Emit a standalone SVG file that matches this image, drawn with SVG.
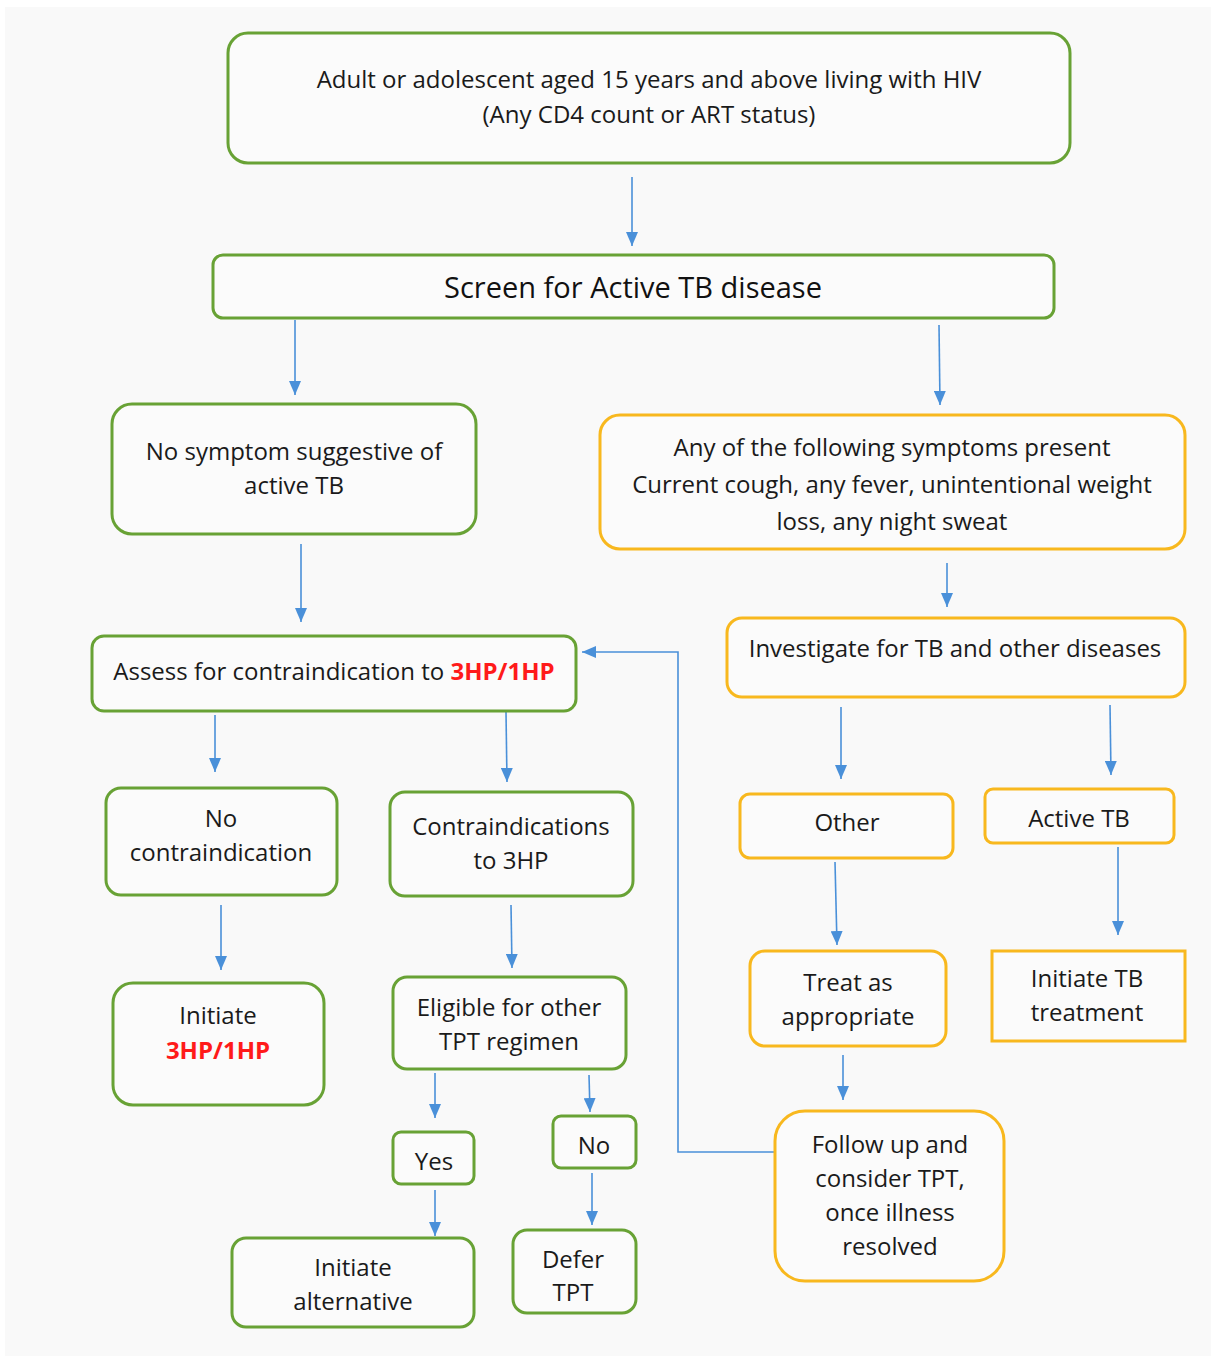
<svg xmlns="http://www.w3.org/2000/svg" width="1211" height="1356" viewBox="0 0 1211 1356">
  <defs>
    <!-- one arrowhead, pointing along the path direction -->
    <marker id="ah" viewBox="0 0 14 12" refX="14" refY="6" markerWidth="14" markerHeight="12" markerUnits="userSpaceOnUse" orient="auto">
      <path d="M0,0 L14,6 L0,12 Z" fill="#4a90d9"/>
    </marker>
    <style>
      .g { fill: #fbfbfb; stroke: #68a235; stroke-width: 3; }
      .y { fill: #fbfbfb; stroke: #f8b81e; stroke-width: 3; }
      .t { font-family: "Open Sans", "Noto Sans", sans-serif; font-size: 24px; fill: #1a1a1a; text-anchor: middle; }
      .big { font-family: "Open Sans", "Noto Sans", sans-serif; font-size: 29px; fill: #111; text-anchor: middle; }
      .red { fill: #ff1a1a; font-weight: bold; }
      .c { fill: none; stroke: #4a90d9; stroke-width: 1.6; }
      .v { fill: none; stroke: #4a90d9; stroke-width: 1.6; marker-end: url(#ah); }
    </style>
  </defs>

  <rect x="0" y="0" width="1211" height="1356" fill="#ffffff"/>
  <rect x="5" y="7" width="1206" height="1349" fill="#f9f9f9"/>

  <!-- connectors -->
  <g id="connectors">
    <path class="v" d="M632,177 L632,246"/>
    <path class="v" d="M295,320 L295,395"/>
    <path class="v" d="M939,325 L940,405"/>
    <path class="v" d="M301,544 L301,622"/>
    <path class="v" d="M947,563 L947,607"/>
    <path class="v" d="M215,715 L215,772"/>
    <path class="v" d="M506,712 L507,782"/>
    <path class="v" d="M221,905 L221,970"/>
    <path class="v" d="M511,905 L512,968"/>
    <path class="v" d="M435,1073 L435,1118"/>
    <path class="v" d="M589,1075 L590,1112"/>
    <path class="v" d="M435,1190 L435,1236"/>
    <path class="v" d="M592,1173 L592,1225"/>
    <path class="v" d="M841,707 L841,779"/>
    <path class="v" d="M1110,705 L1111,775"/>
    <path class="v" d="M835,862 L837,945"/>
    <path class="v" d="M1118,847 L1118,935"/>
    <path class="v" d="M843,1055 L843,1100"/>
    <path class="v" d="M775,1152 L678,1152 L678,652 L582,652"/>
  </g>

  <g id="n-start">
    <rect class="g" x="228" y="33" width="842" height="130" rx="20"/>
    <text class="t" x="649" y="88">Adult or adolescent aged 15 years and above living with HIV</text>
    <text class="t" x="649" y="123">(Any CD4 count or ART status)</text>
  </g>

  <g id="n-screen">
    <rect class="g" x="213" y="255" width="841" height="63" rx="10"/>
    <text class="big" x="633" y="298">Screen for Active TB disease</text>
  </g>

  <g id="n-nosymptom">
    <rect class="g" x="112" y="404" width="364" height="130" rx="20"/>
    <text class="t" x="294" y="460">No symptom suggestive of</text>
    <text class="t" x="294" y="494">active TB</text>
  </g>

  <g id="n-symptoms">
    <rect class="y" x="600" y="415" width="585" height="134" rx="20"/>
    <text class="t" x="892" y="456">Any of the following symptoms present</text>
    <text class="t" x="892" y="493">Current cough, any fever, unintentional weight</text>
    <text class="t" x="892" y="530">loss, any night sweat</text>
  </g>

  <g id="n-assess">
    <rect class="g" x="92" y="636" width="484" height="75" rx="12"/>
    <text class="t" x="334" y="680">Assess for contraindication to <tspan class="red">3HP/1HP</tspan></text>
  </g>

  <g id="n-investigate">
    <rect class="y" x="727" y="618" width="458" height="79" rx="15"/>
    <text class="t" x="955" y="657">Investigate for TB and other diseases</text>
  </g>

  <g id="n-nocontra">
    <rect class="g" x="106" y="788" width="231" height="107" rx="15"/>
    <text class="t" x="221" y="827">No</text>
    <text class="t" x="221" y="861">contraindication</text>
  </g>

  <g id="n-contra">
    <rect class="g" x="390" y="792" width="243" height="104" rx="15"/>
    <text class="t" x="511" y="835">Contraindications</text>
    <text class="t" x="511" y="869">to 3HP</text>
  </g>

  <g id="n-initiate">
    <rect class="g" x="113" y="983" width="211" height="122" rx="20"/>
    <text class="t" x="218" y="1024">Initiate</text>
    <text class="t red" x="218" y="1059">3HP/1HP</text>
  </g>

  <g id="n-eligible">
    <rect class="g" x="393" y="977" width="233" height="92" rx="14"/>
    <text class="t" x="509" y="1016">Eligible for other</text>
    <text class="t" x="509" y="1050">TPT regimen</text>
  </g>

  <g id="n-yes">
    <rect class="g" x="393" y="1132" width="81" height="52" rx="8"/>
    <text class="t" x="434" y="1170">Yes</text>
  </g>

  <g id="n-no">
    <rect class="g" x="553" y="1116" width="83" height="52" rx="8"/>
    <text class="t" x="594" y="1154">No</text>
  </g>

  <g id="n-alternative">
    <rect class="g" x="232" y="1238" width="242" height="89" rx="14"/>
    <text class="t" x="353" y="1276">Initiate</text>
    <text class="t" x="353" y="1310">alternative</text>
  </g>

  <g id="n-defer">
    <rect class="g" x="513" y="1230" width="123" height="83" rx="14"/>
    <text class="t" x="573" y="1268">Defer</text>
    <text class="t" x="573" y="1301">TPT</text>
  </g>

  <g id="n-other">
    <rect class="y" x="740" y="794" width="213" height="64" rx="10"/>
    <text class="t" x="847" y="831">Other</text>
  </g>

  <g id="n-activetb">
    <rect class="y" x="985" y="789" width="189" height="54" rx="8"/>
    <text class="t" x="1079" y="827">Active TB</text>
  </g>

  <g id="n-treat">
    <rect class="y" x="750" y="951" width="196" height="95" rx="15"/>
    <text class="t" x="848" y="991">Treat as</text>
    <text class="t" x="848" y="1025">appropriate</text>
  </g>

  <g id="n-tbtreatment">
    <rect class="y" x="992" y="951" width="193" height="90"/>
    <text class="t" x="1087" y="987">Initiate TB</text>
    <text class="t" x="1087" y="1021">treatment</text>
  </g>

  <g id="n-followup">
    <rect class="y" x="775" y="1111" width="229" height="170" rx="30"/>
    <text class="t" x="890" y="1153">Follow up and</text>
    <text class="t" x="890" y="1187">consider TPT,</text>
    <text class="t" x="890" y="1221">once illness</text>
    <text class="t" x="890" y="1255">resolved</text>
  </g>
</svg>
